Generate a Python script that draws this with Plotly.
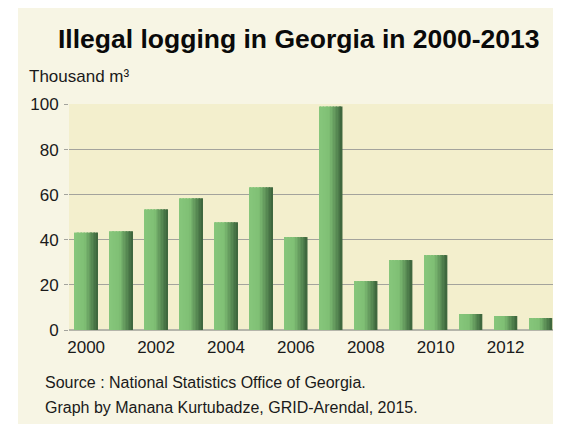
import plotly.graph_objects as go

# ---- data ----
years = [2000, 2001, 2002, 2003, 2004, 2005, 2006, 2007, 2008, 2009, 2010, 2011, 2012, 2013]
volumes = [43.2, 43.8, 53.5, 58.4, 47.8, 63.3, 41.2, 99.1, 21.7, 31.0, 33.2, 7.1, 6.2, 5.3]
x_tick_vals = [2000, 2002, 2004, 2006, 2008, 2010, 2012]
y_tick_vals = [0, 20, 40, 60, 80, 100]
title_text = "Illegal logging in Georgia in 2000-2013"
unit_text = "Thousand m³"
source_text = "Source : National Statistics Office of Georgia."
credit_text = "Graph by Manana Kurtubadze, GRID-Arendal, 2015."

# ---- styling ----
OFF = 8                      # page body margin
W, H = 561 - OFF, 424 - OFF  # figure size
PL, PR, PT, PB = 69, 556, 104, 330   # plot area in page pixels
ML, MR, MT, MB = PL - OFF, W - (PR - OFF), PT - OFF, H - (PB - OFF)
PW, PH = PR - PL, PB - PT
OUTER_BG = "#f7f5e4"
PLOT_BG = "#f3efcd"
GRID = "#a3a39c"
FONT = "Arial, Liberation Sans, sans-serif"

def px_x(p):
    return (p - PL) / PW

def px_y(p):
    return (PB - p) / PH

def lerp(c1, c2, t):
    a = [int(c1[i:i + 2], 16) for i in (1, 3, 5)]
    b = [int(c2[i:i + 2], 16) for i in (1, 3, 5)]
    return "rgb(%d,%d,%d)" % tuple(round(a[k] + (b[k] - a[k]) * t) for k in range(3))

def grad(t):
    if t < 0.45:
        return lerp("#86c67c", "#7fbf74", t / 0.45)
    return lerp("#7fbf74", "#3b633b", (t - 0.45) / 0.55)

fig = go.Figure()
bar_w = 0.66
n_strips = 16
sw = bar_w / n_strips
for i in range(n_strips):
    t = (i + 0.5) / n_strips
    fig.add_trace(go.Bar(
        x=years, y=volumes,
        width=sw * 1.06, offset=-bar_w / 2 + i * sw,
        marker=dict(color=grad(t), line=dict(width=0)),
        hoverinfo="skip", showlegend=False,
    ))

fig.update_layout(
    width=W, height=H,
    margin=dict(l=ML, r=MR, t=MT, b=MB, pad=0),
    paper_bgcolor=OUTER_BG,
    plot_bgcolor=PLOT_BG,
    barmode="overlay",
    showlegend=False,
    font=dict(family=FONT, size=17, color="#1a1a1a"),
    xaxis=dict(
        range=[1999.51, 2013.44],
        tickvals=x_tick_vals,
        showgrid=False, zeroline=False, showline=False,
        ticks="", tickfont=dict(size=17), ticklabelstandoff=5,
    ),
    yaxis=dict(
        range=[0, 100.2],
        tickvals=y_tick_vals,
        showgrid=True, gridcolor=GRID, gridwidth=1,
        zeroline=True, zerolinecolor="#b5b5aa", zerolinewidth=2,
        ticks="outside", ticklen=4, tickcolor=GRID, tickwidth=1,
        showline=False, tickfont=dict(size=17), ticklabelstandoff=2,
    ),
    shapes=[
        dict(type="rect", xref="paper", yref="paper", layer="above",
             x0=px_x(0), x1=px_x(18), y0=px_y(500), y1=px_y(0),
             fillcolor="white", line=dict(width=0)),
    ],
    annotations=[
        dict(text="<b>%s</b>" % title_text, xref="paper", yref="paper",
             x=px_x(298.5), y=px_y(39), xanchor="center", yanchor="middle",
             showarrow=False, font=dict(size=26.5, color="#0a0a0a", family=FONT)),
        dict(text=unit_text, xref="paper", yref="paper",
             x=px_x(27), y=px_y(77), xanchor="left", yanchor="middle",
             showarrow=False, font=dict(size=17, family=FONT)),
        dict(text=source_text, xref="paper", yref="paper",
             x=px_x(43), y=px_y(382), xanchor="left", yanchor="middle",
             showarrow=False, font=dict(size=16, family=FONT)),
        dict(text=credit_text, xref="paper", yref="paper",
             x=px_x(43), y=px_y(407), xanchor="left", yanchor="middle",
             showarrow=False, font=dict(size=16, family=FONT)),
    ],
)

fig.write_html("out.html")
